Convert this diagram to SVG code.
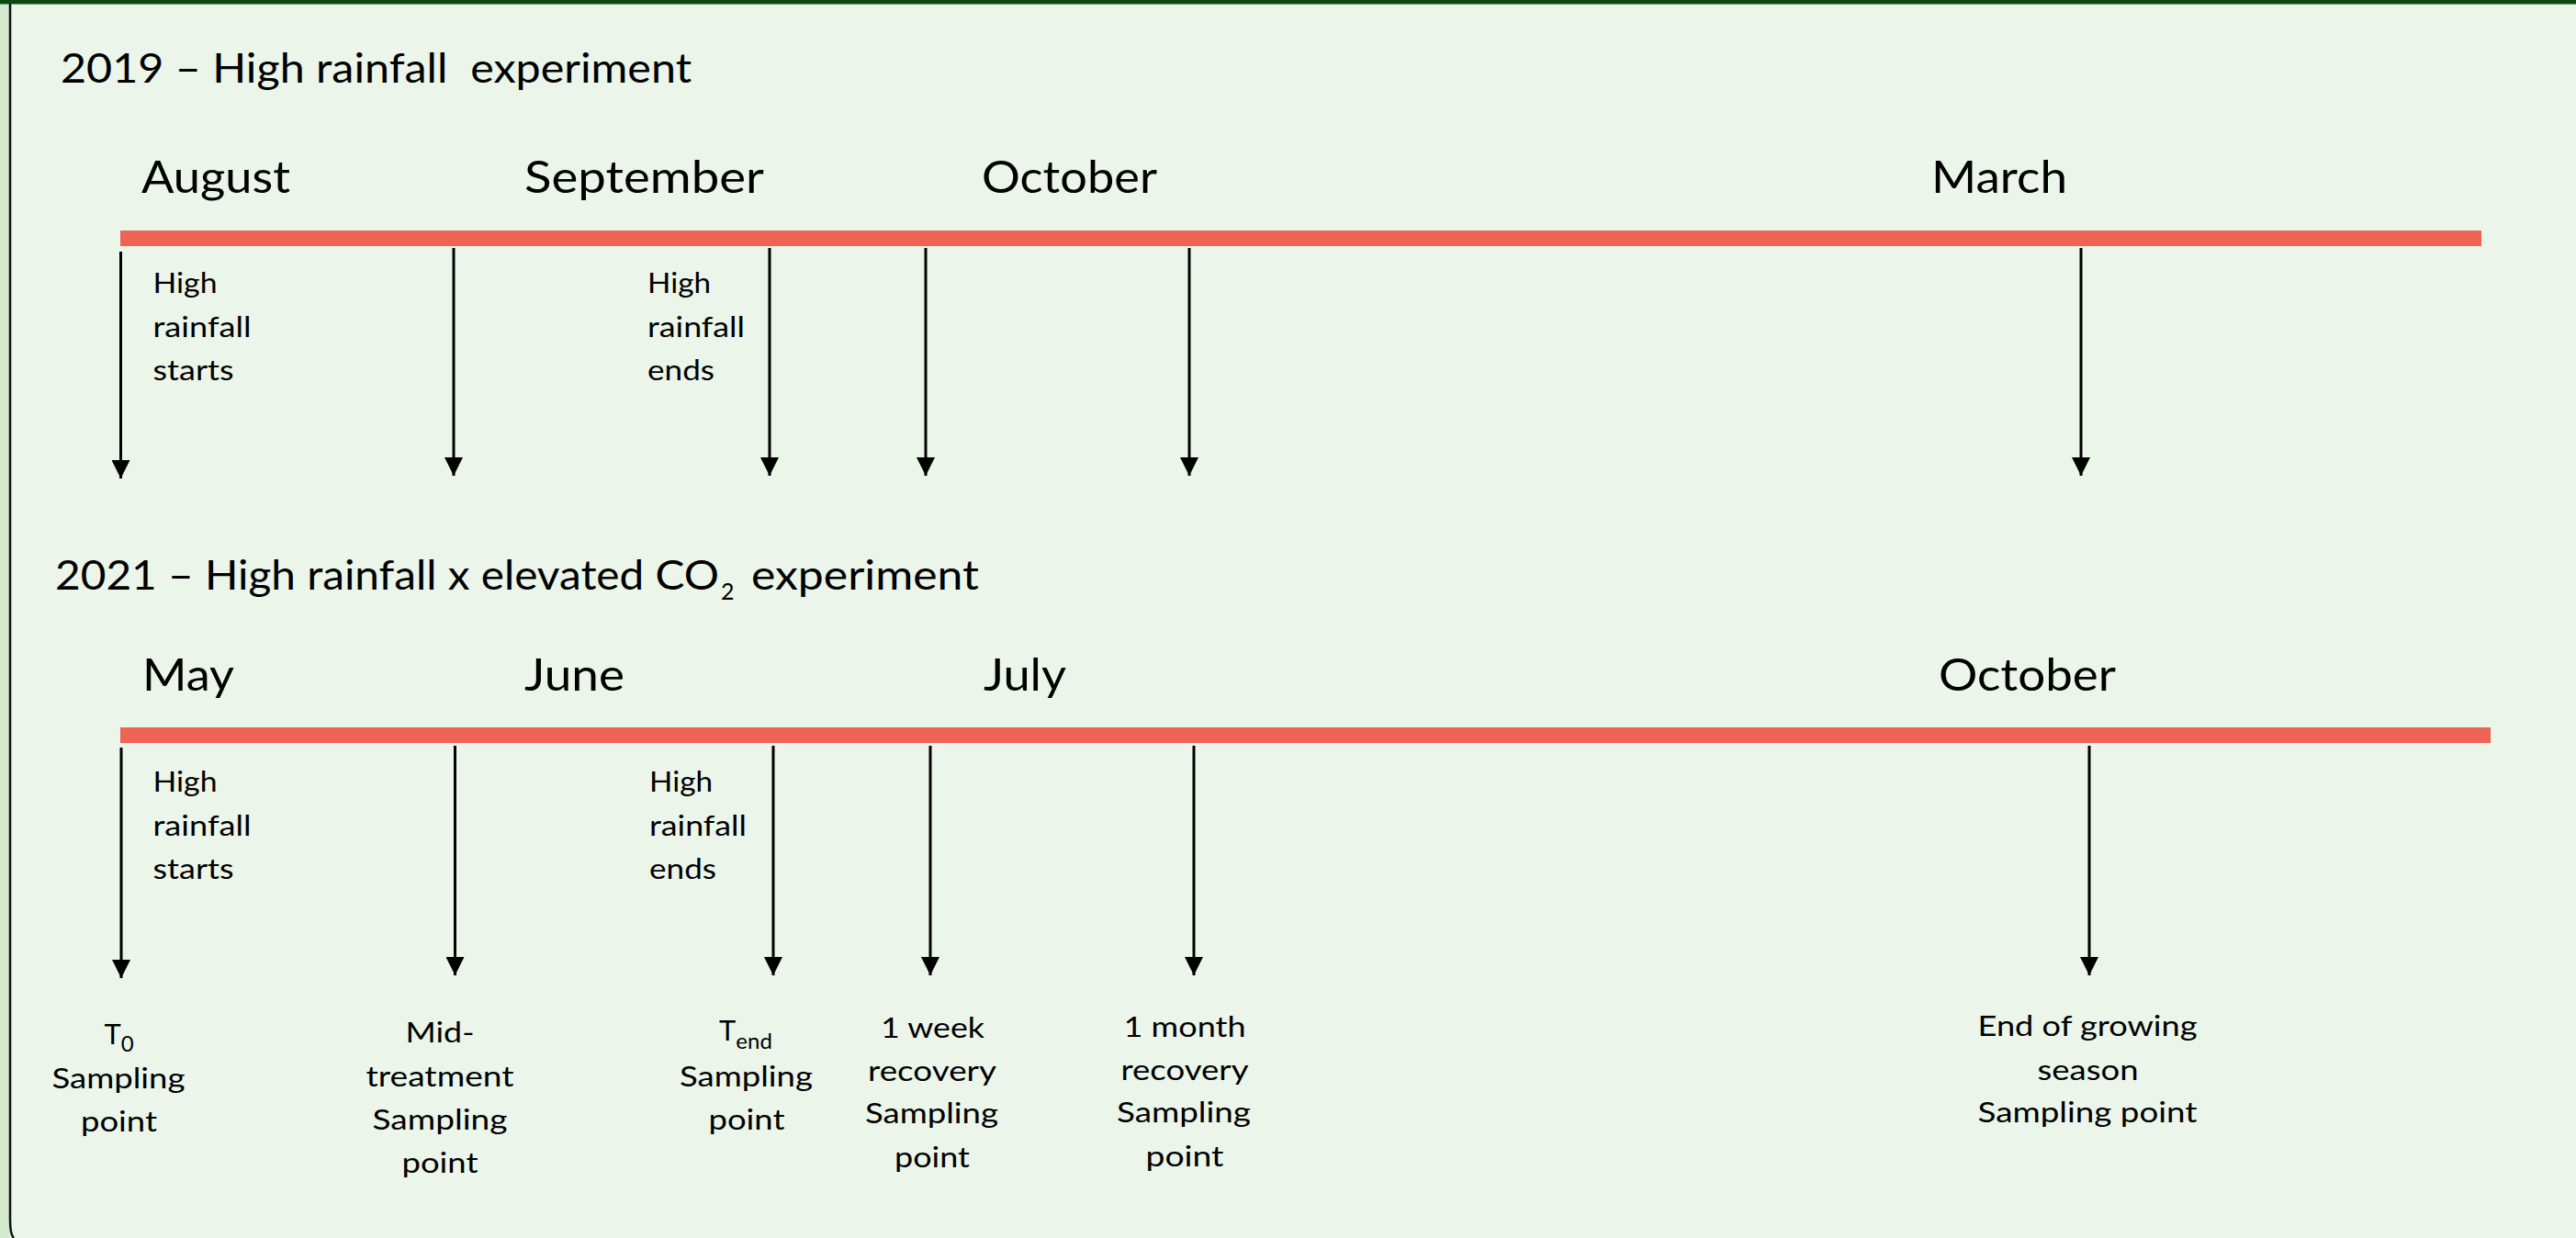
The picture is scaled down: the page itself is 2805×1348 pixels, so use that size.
<svg xmlns="http://www.w3.org/2000/svg" width="2805" height="1348" viewBox="0 0 2805 1348">
<style>
text{font-family:Lato,"Liberation Sans",sans-serif;fill:#000}
.title{font-size:44px}
.month{font-size:48px}
.lbl{font-size:31px}
.ctr{text-anchor:middle}
.bar{fill:#ED6354}
.arr{stroke:#000;stroke-width:3;fill:none;marker-end:url(#ah)}
</style>
<defs>
<marker id="ah" markerUnits="userSpaceOnUse" markerWidth="20" markerHeight="20" viewBox="0 0 18 18" refX="18" refY="9" orient="auto">
<path d="M0,0 L18,9 L0,18 Z" fill="#000"/>
</marker>
</defs>
<g id="background">
<rect x="0" y="0" width="2805" height="1348" fill="#EBF5EA"/>
<rect x="0" y="0" width="10" height="1348" fill="#D3EACF"/>
<rect x="0" y="0" width="2805" height="4" fill="#0D4812"/>
<rect x="0" y="4" width="2805" height="1" fill="#6E9C6E"/>
<path d="M11,4 V1328 Q11,1344 15,1348" stroke="#111" stroke-width="2.5" fill="none"/>
</g>
<g id="title-2019"><text class="title" x="66" y="89.5" textLength="687" lengthAdjust="spacingAndGlyphs" xml:space="preserve" style="white-space:pre">2019 – High rainfall  experiment</text></g>
<g id="timeline-2019"><rect class="bar" x="131" y="251" width="2571" height="17"/></g>
<g id="month-august"><text class="month" x="154" y="210" textLength="162" lengthAdjust="spacingAndGlyphs">August</text></g>
<g id="month-september"><text class="month" x="571" y="210" textLength="261" lengthAdjust="spacingAndGlyphs">September</text></g>
<g id="month-october-2019"><text class="month" x="1069" y="210" textLength="191" lengthAdjust="spacingAndGlyphs">October</text></g>
<g id="month-march"><text class="month" x="2103" y="210" textLength="148" lengthAdjust="spacingAndGlyphs">March</text></g>
<g id="event-start-2019"><text class="lbl"><tspan x="166.5" y="319" textLength="70" lengthAdjust="spacingAndGlyphs">High</tspan><tspan x="166.5" y="366.5" textLength="107" lengthAdjust="spacingAndGlyphs">rainfall</tspan><tspan x="166.5" y="414" textLength="88" lengthAdjust="spacingAndGlyphs">starts</tspan></text></g>
<g id="event-end-2019"><text class="lbl"><tspan x="705" y="319" textLength="69" lengthAdjust="spacingAndGlyphs">High</tspan><tspan x="705" y="366.5" textLength="106" lengthAdjust="spacingAndGlyphs">rainfall</tspan><tspan x="705" y="414" textLength="73" lengthAdjust="spacingAndGlyphs">ends</tspan></text></g>
<g id="title-2021"><text class="title" y="642"><tspan x="60" textLength="723" lengthAdjust="spacingAndGlyphs">2021 – High rainfall x elevated CO</tspan><tspan x="785" dy="11" font-size="25">2</tspan><tspan dy="-11"> </tspan><tspan x="818" textLength="248" lengthAdjust="spacingAndGlyphs">experiment</tspan></text></g>
<g id="timeline-2021"><rect class="bar" x="131" y="792" width="2581" height="17"/></g>
<g id="month-may"><text class="month" x="155" y="752" textLength="100" lengthAdjust="spacingAndGlyphs">May</text></g>
<g id="month-june"><text class="month" x="571" y="752" textLength="109" lengthAdjust="spacingAndGlyphs">June</text></g>
<g id="month-july"><text class="month" x="1071" y="752" textLength="90" lengthAdjust="spacingAndGlyphs">July</text></g>
<g id="month-october-2021"><text class="month" x="2111" y="752" textLength="193" lengthAdjust="spacingAndGlyphs">October</text></g>
<g id="event-start-2021"><text class="lbl"><tspan x="166.5" y="862" textLength="70" lengthAdjust="spacingAndGlyphs">High</tspan><tspan x="166.5" y="910" textLength="107" lengthAdjust="spacingAndGlyphs">rainfall</tspan><tspan x="166.5" y="957" textLength="88" lengthAdjust="spacingAndGlyphs">starts</tspan></text></g>
<g id="event-end-2021"><text class="lbl"><tspan x="707" y="862" textLength="69" lengthAdjust="spacingAndGlyphs">High</tspan><tspan x="707" y="910" textLength="106" lengthAdjust="spacingAndGlyphs">rainfall</tspan><tspan x="707" y="957" textLength="73" lengthAdjust="spacingAndGlyphs">ends</tspan></text></g>
<g id="sample-t0"><text class="lbl" x="113.5" y="1137">T<tspan font-size="24" dy="8">0</tspan></text><text class="lbl ctr"><tspan x="129" y="1185" textLength="145" lengthAdjust="spacingAndGlyphs">Sampling</tspan><tspan x="129.5" y="1232" textLength="83" lengthAdjust="spacingAndGlyphs">point</tspan></text></g>
<g id="sample-mid"><text class="lbl ctr"><tspan x="479" y="1135" textLength="75" lengthAdjust="spacingAndGlyphs">Mid-</tspan><tspan x="479" y="1183" textLength="161" lengthAdjust="spacingAndGlyphs">treatment</tspan><tspan x="479" y="1230" textLength="147" lengthAdjust="spacingAndGlyphs">Sampling</tspan><tspan x="479" y="1277" textLength="83" lengthAdjust="spacingAndGlyphs">point</tspan></text></g>
<g id="sample-tend"><text class="lbl" x="783" y="1133">T<tspan font-size="24" dy="9">end</tspan></text><text class="lbl ctr"><tspan x="812.5" y="1183" textLength="145" lengthAdjust="spacingAndGlyphs">Sampling</tspan><tspan x="813" y="1230" textLength="83" lengthAdjust="spacingAndGlyphs">point</tspan></text></g>
<g id="sample-1week"><text class="lbl ctr"><tspan x="1015.5" y="1130" textLength="113" lengthAdjust="spacingAndGlyphs">1 week</tspan><tspan x="1015" y="1177" textLength="140" lengthAdjust="spacingAndGlyphs">recovery</tspan><tspan x="1014.5" y="1223" textLength="145" lengthAdjust="spacingAndGlyphs">Sampling</tspan><tspan x="1015" y="1271" textLength="82" lengthAdjust="spacingAndGlyphs">point</tspan></text></g>
<g id="sample-1month"><text class="lbl ctr"><tspan x="1290" y="1129" textLength="133" lengthAdjust="spacingAndGlyphs">1 month</tspan><tspan x="1290" y="1176" textLength="139" lengthAdjust="spacingAndGlyphs">recovery</tspan><tspan x="1289" y="1222" textLength="146" lengthAdjust="spacingAndGlyphs">Sampling</tspan><tspan x="1290" y="1270" textLength="85" lengthAdjust="spacingAndGlyphs">point</tspan></text></g>
<g id="sample-end-season"><text class="lbl ctr"><tspan x="2273" y="1128" textLength="239" lengthAdjust="spacingAndGlyphs">End of growing</tspan><tspan x="2273.5" y="1176" textLength="110" lengthAdjust="spacingAndGlyphs">season</tspan><tspan x="2273" y="1222" textLength="239" lengthAdjust="spacingAndGlyphs">Sampling point</tspan></text></g>
<g id="connectors">
<line class="arr" x1="131.5" y1="274" x2="131.5" y2="521"/>
<line class="arr" x1="494" y1="270" x2="494" y2="518"/>
<line class="arr" x1="838" y1="270" x2="838" y2="518"/>
<line class="arr" x1="1008" y1="270" x2="1008" y2="518"/>
<line class="arr" x1="1295" y1="270" x2="1295" y2="518"/>
<line class="arr" x1="2266" y1="270" x2="2266" y2="518"/>
<line class="arr" x1="132" y1="814" x2="132" y2="1065"/>
<line class="arr" x1="495.5" y1="812" x2="495.5" y2="1062"/>
<line class="arr" x1="842" y1="812" x2="842" y2="1062"/>
<line class="arr" x1="1013" y1="812" x2="1013" y2="1062"/>
<line class="arr" x1="1300" y1="812" x2="1300" y2="1062"/>
<line class="arr" x1="2275" y1="812" x2="2275" y2="1062"/>
</g>
</svg>
